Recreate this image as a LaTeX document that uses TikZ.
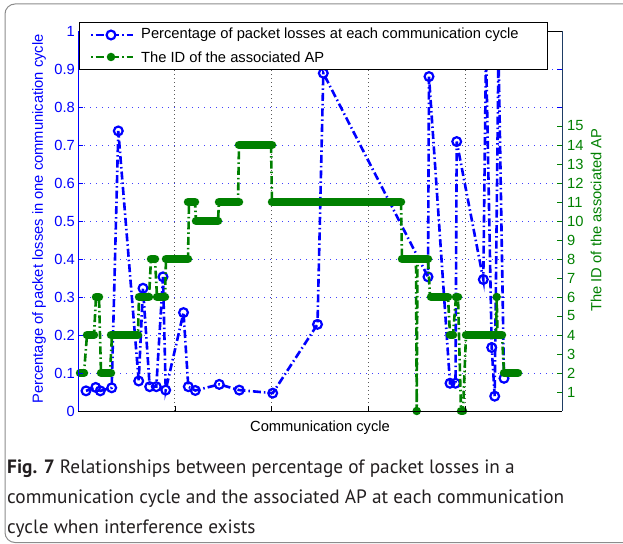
\documentclass[tikz,border=0pt]{standalone}
\usepackage{fontspec}
\setmainfont{Liberation Sans}
\newfontfamily\captionfont{PT Sans}
\definecolor{lossblue}{RGB}{0,0,255}
\definecolor{apgreen}{RGB}{0,128,0}
\definecolor{rightaxis}{RGB}{30,60,100}
\definecolor{framegray}{RGB}{140,140,140}
\definecolor{captext}{RGB}{35,31,32}
\tikzset{
  gridh/.style={lossblue!75, line width=0.9pt, dash pattern=on 1pt off 5pt},
  gridv/.style={black!65, line width=0.9pt, dash pattern=on 1pt off 3pt},
  lossline/.style={lossblue, line width=2.6pt, dash pattern=on 8pt off 3pt on 1.5pt off 3pt},
  lossmark/.style={lossblue, line width=2.2pt},
  apline/.style={apgreen, line width=2.6pt, dash pattern=on 8pt off 3pt on 1.5pt off 3pt},
  apbar/.style={apgreen, line width=8.5pt, line cap=round},
  plottext/.style={font=\fontsize{14.7}{17}\selectfont},
  ticklabel/.style={plottext, inner sep=0pt},
  captionline/.style={anchor=base west, inner sep=0pt, text=captext,
    font=\captionfont\fontsize{19.3}{29}\selectfont},
}

\begin{document}
\begin{tikzpicture}[x=1pt,y=1pt]
\useasboundingbox (0,0) rectangle (623,543);

% outer frame
\begin{scope}
\clip (0,0) rectangle (623,543);
\draw[framegray, line width=1pt, rounded corners=10pt] (5,0.5) rectangle (660,539);
\end{scope}

% grid
\foreach \v in {1,...,9}
  \draw[gridh] (78,132+38*\v) -- (562,132+38*\v);
\foreach \u in {1,...,4}
  \draw[gridv] (78+96.8*\u,132) -- (78+96.8*\u,512);

% packet losses
\begin{scope}[shift={(78,132)}, y=380pt]
\draw[lossline] (8,0.053) -- (17.7,0.062) -- (22.3,0.053) -- (33.7,0.061) -- (40.3,0.737)
  -- (60.7,0.079) -- (65,0.323) -- (71.7,0.064) -- (78.3,0.064) -- (85,0.353) -- (87.7,0.055)
  -- (105.5,0.259) -- (110.3,0.064) -- (117.3,0.054) -- (141.3,0.07) -- (161.3,0.055)
  -- (194.7,0.047) -- (239.5,0.228) -- (245.3,0.889) -- (350,0.353) -- (351,0.88)
  -- (372,0.073) -- (377.5,0.073) -- (378.7,0.709) -- (405.3,0.346) -- (408,0.95)
  -- (413.7,0.167) -- (416.7,0.039) -- (420.5,0.95) -- (426,0.086);
\foreach \x/\v in {8/0.053, 17.7/0.062, 22.3/0.053, 33.7/0.061, 40.3/0.737, 60.7/0.079,
  65/0.323, 71.7/0.064, 78.3/0.064, 85/0.353, 87.7/0.055, 105.5/0.259, 110.3/0.064,
  117.3/0.054, 141.3/0.07, 161.3/0.055, 194.7/0.047, 239.5/0.228, 245.3/0.889, 350/0.353,
  351/0.88, 372/0.073, 377.5/0.073, 378.7/0.709, 405.3/0.346, 413.7/0.167, 416.7/0.039,
  426/0.086}
  \draw[lossmark] (\x,\v) circle (4.4pt);
\end{scope}

% associated AP
\begin{scope}[shift={(78,132)}, y=19pt]
\draw[apline] (2,2) -- (6,2) -- (9,4) -- (16,4) -- (18,6) -- (21,6) -- (23,2) -- (32,2)
  -- (34,4) -- (60,4) -- (61,6) -- (71,6) -- (73,8) -- (77,8) -- (79,6) -- (87,6) -- (88,8)
  -- (110,8) -- (111,11) -- (117,11) -- (118,10) -- (140,10) -- (141,11) -- (160,11)
  -- (161,14) -- (193,14) -- (194,11) -- (323,11) -- (324,8) -- (338,8) -- (338.7,0)
  -- (339.5,8) -- (350,8) -- (352,6) -- (370,6) -- (372,4) -- (375,4) -- (378,6) -- (380,6)
  -- (383,0) -- (385,0) -- (388,4) -- (418,4) -- (418.7,6) -- (419.5,4) -- (424,4)
  -- (426,2) -- (440,2);
\foreach \a/\b/\id in {2/6/2, 9/16/4, 18/21/6, 23/33/2, 33/60/4, 61/71/6, 73/77/8, 79/87/6,
  88/110/8, 110/117/11, 118/140/10, 141/161/11, 161/194/14, 194/323/11, 324/350/8,
  353/370/6, 372/375/4, 378/380/6, 383/385/0, 388/424/4, 426/440/2}
  \draw[apbar] (\a,\id) -- (\b,\id);
\fill[apgreen] (338.7,0) circle (4.25pt);
\fill[apgreen] (418.7,6) circle (4.25pt);
\end{scope}

% axes
\draw[black, line width=0.8pt] (78,512) -- (562,512);
\draw[black, line width=0.8pt] (78,132) -- (562,132);
\draw[lossblue, line width=0.8pt] (78,132) -- (78,512);
\draw[rightaxis, line width=0.8pt] (562,132) -- (562,512);
\foreach \u in {1,...,4}
  \draw[black, line width=0.6pt] (78+96.8*\u,132) -- (78+96.8*\u,137);
\foreach \v in {1,...,9}
  \draw[lossblue, line width=0.6pt] (78,132+38*\v) -- (83,132+38*\v)
    (557,132+38*\v) -- (562,132+38*\v);
\foreach \k in {1,...,15}
  \draw[apgreen, line width=0.6pt] (557,132+19*\k) -- (562,132+19*\k);

% tick labels
\node[ticklabel, lossblue, anchor=east] (t0) at (75,132) {0};
\foreach \v in {1,...,9}
  \node[ticklabel, lossblue, anchor=east] (t\v) at (75,132+38*\v) {0.\v};
\node[ticklabel, lossblue, anchor=east] (t10) at (75,512) {1};
\foreach \k in {1,...,15}
  \node[ticklabel, apgreen, anchor=west] (id\k) at (567,132+19*\k) {\k};

% axis labels
\node[plottext, lossblue, rotate=90] (ylabel) at (39,324)
  {Percentage of packet losses in one communication cycle};
\node[plottext, apgreen, rotate=90] (idlabel) at (596,323) {The ID of the associated AP};
\node[plottext] (xlabel) at (320,115) {Communication cycle};

% legend
\draw[fill=white, line width=1pt] (79,473) rectangle (547,520);
\draw[lossline, dash phase=9pt] (89,508) -- (133,508);
\draw[lossmark, fill=white] (111,508) circle (4.4pt);
\draw[apline, dash phase=9pt] (89,486) -- (133,486);
\fill[apgreen] (111,486) circle (4.25pt);
\node[ticklabel, anchor=west] (leg1) at (141,508) {Percentage of packet losses at each communication cycle};
\node[ticklabel, anchor=west] (leg2) at (141,486) {The ID of the associated AP};

% caption
\node[captionline] (cap1) at (7,69)
  {\textbf{Fig. 7} Relationships between percentage of packet losses in a};
\node[captionline] (cap2) at (7,39)
  {communication cycle and the associated AP at each communication};
\node[captionline] (cap3) at (7,10) {cycle when interference exists};
\end{tikzpicture}
\end{document}
